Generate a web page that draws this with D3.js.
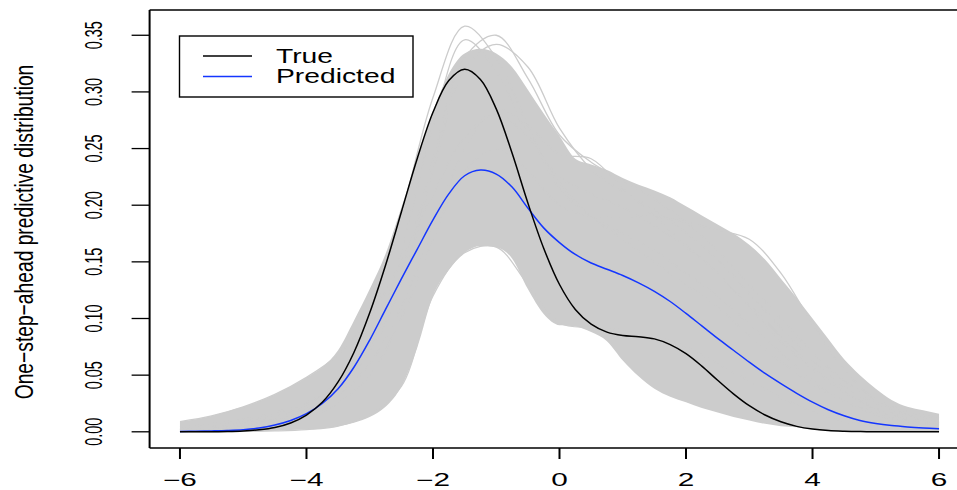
<!DOCTYPE html>
<html>
<head>
<meta charset="utf-8">
<script src="https://cdn.jsdelivr.net/npm/d3@7"></script>
<style>
  html, body { margin: 0; padding: 0; background: #fff; }
  svg { display: block; }
  text { font-family: "Liberation Sans", Arial, Helvetica, sans-serif; fill: #000; }
</style>
</head>
<body>
<svg id="chart" width="957" height="490"></svg>
<script>
// ---------------- data ----------------
const xGrid = [-6,-5.75,-5.5,-5.25,-5,-4.75,-4.5,-4.25,-4,-3.75,-3.5,-3.25,-3,-2.75,-2.5,-2.25,-2,-1.75,-1.5,-1.25,-1,-0.75,-0.5,-0.25,0,0.25,0.5,0.75,1,1.25,1.5,1.75,2,2.25,2.5,2.75,3,3.25,3.5,3.75,4,4.25,4.5,4.75,5,5.25,5.5,5.75,6];

const trueDensity = [0.0000,0.0000,0.0001,0.0003,0.0008,0.0018,0.0038,0.0078,0.0148,0.0260,0.0440,0.0700,0.1050,0.1470,0.1940,0.2410,0.2820,0.3100,0.3200,0.3110,0.2850,0.2460,0.2020,0.1620,0.1300,0.1080,0.0950,0.0880,0.0850,0.0840,0.0820,0.0770,0.0690,0.0580,0.0455,0.0335,0.0230,0.0148,0.0088,0.0048,0.0024,0.0011,0.0005,0.0002,0.0001,0.0000,0.0000,0.0000,0.0000];

const predictedDensity = [0.0003,0.0005,0.0008,0.0012,0.0019,0.0033,0.0060,0.0100,0.0160,0.0250,0.0380,0.0570,0.0810,0.1080,0.1350,0.1610,0.1870,0.2100,0.2260,0.2310,0.2275,0.2160,0.1975,0.1800,0.1670,0.1565,0.1490,0.1435,0.1380,0.1315,0.1240,0.1150,0.1045,0.0935,0.0825,0.0720,0.0615,0.0515,0.0425,0.0340,0.0262,0.0195,0.0142,0.0100,0.0073,0.0055,0.0043,0.0034,0.0027];

const sampleUpper = [0.009,0.011,0.014,0.018,0.022,0.027,0.033,0.040,0.048,0.057,0.072,0.098,0.126,0.157,0.198,0.240,0.282,0.316,0.334,0.338,0.334,0.322,0.302,0.281,0.261,0.241,0.236,0.231,0.224,0.218,0.213,0.207,0.199,0.191,0.183,0.175,0.165,0.152,0.135,0.118,0.100,0.082,0.064,0.050,0.038,0.028,0.022,0.019,0.016];

const sampleLower = [0.000,0.000,0.000,0.000,0.000,0.0005,0.001,0.0015,0.002,0.003,0.005,0.008,0.013,0.022,0.040,0.074,0.120,0.143,0.158,0.164,0.163,0.153,0.126,0.104,0.094,0.093,0.088,0.080,0.063,0.049,0.038,0.031,0.026,0.021,0.017,0.013,0.010,0.007,0.005,0.004,0.002,0.001,0.0005,0.0003,0.0002,0.0001,0.0000,0.0000,0.0000];

const xCoarse = [-6,-5.5,-5,-4.5,-4,-3.5,-3,-2.5,-2,-1.5,-1,-0.5,0,0.5,1,1.5,2,2.5,3,3.5,4,4.5,5,5.5,6];
const sampleCurve1 = [0.002,0.004,0.008,0.014,0.024,0.045,0.095,0.190,0.295,0.358,0.330,0.270,0.215,0.190,0.175,0.160,0.140,0.120,0.095,0.070,0.045,0.027,0.015,0.009,0.006];
const sampleCurve2 = [0.004,0.007,0.011,0.017,0.026,0.042,0.075,0.140,0.240,0.330,0.350,0.312,0.262,0.238,0.222,0.205,0.185,0.160,0.130,0.100,0.070,0.045,0.028,0.018,0.012];
const sampleCurve3 = [0.000,0.000,0.0003,0.0008,0.002,0.005,0.015,0.040,0.120,0.158,0.163,0.130,0.096,0.092,0.090,0.085,0.075,0.060,0.045,0.030,0.018,0.009,0.005,0.003,0.002];
const sampleCurve4 = [0.001,0.002,0.004,0.007,0.013,0.025,0.050,0.100,0.170,0.230,0.250,0.230,0.200,0.190,0.190,0.190,0.185,0.178,0.170,0.140,0.095,0.055,0.028,0.014,0.007];
const sampleCurve5 = [0.002,0.003,0.006,0.010,0.018,0.032,0.060,0.110,0.180,0.250,0.285,0.270,0.245,0.241,0.215,0.190,0.165,0.140,0.110,0.080,0.055,0.035,0.020,0.012,0.008];
const sampleCurve6 = [0.009,0.014,0.022,0.033,0.048,0.068,0.100,0.150,0.210,0.260,0.280,0.260,0.220,0.190,0.170,0.150,0.130,0.110,0.085,0.062,0.042,0.027,0.017,0.011,0.008];
const sampleCurve7 = [0.003,0.005,0.009,0.015,0.024,0.040,0.070,0.130,0.230,0.320,0.342,0.322,0.268,0.232,0.212,0.196,0.176,0.152,0.122,0.092,0.063,0.040,0.025,0.016,0.011];
const sampleCurve8 = [0.002,0.004,0.007,0.012,0.020,0.036,0.075,0.160,0.270,0.346,0.318,0.262,0.225,0.210,0.198,0.182,0.163,0.140,0.112,0.084,0.057,0.036,0.021,0.013,0.009];
const sampleCurves = [sampleCurve1, sampleCurve2, sampleCurve3, sampleCurve4, sampleCurve5, sampleCurve6, sampleCurve7, sampleCurve8];

const xTicks = [-6,-4,-2,0,2,4,6];
const xTickLabels = ["\u22126","\u22124","\u22122","0","2","4","6"];
const yTicks = [0,0.05,0.10,0.15,0.20,0.25,0.30,0.35];
const yTickLabels = ["0.00","0.05","0.10","0.15","0.20","0.25","0.30","0.35"];
const legendLabels = ["True","Predicted"];
const yTitle = "One\u2212step\u2212ahead predictive distribution";

// ---------------- drawing ----------------
const svg = d3.select("#chart");
const x = d3.scaleLinear().domain([-6.48, 6.48]).range([149.6, 969.4]);
const y = d3.scaleLinear().domain([-0.0143, 0.3723]).range([448, 10]);

const colGray = "#cccccc", colTrue = "#000000", colPred = "#1436ff";

// sample band
const band = d3.area()
  .x((d,i) => x(xGrid[i]))
  .y0((d,i) => y(sampleLower[i]))
  .y1((d,i) => y(sampleUpper[i]))
  .curve(d3.curveMonotoneX);
svg.append("path").datum(sampleUpper).attr("d", band).attr("fill", colGray);

const coarseLine = d3.line().x((d,i) => x(xCoarse[i])).y(d => y(d)).curve(d3.curveCatmullRom.alpha(0.5));
svg.append("g").selectAll("path").data(sampleCurves).join("path")
  .attr("d", coarseLine).attr("fill", "none").attr("stroke", colGray).attr("stroke-width", 1.3);

const gridLine = d3.line().x((d,i) => x(xGrid[i])).y(d => y(d)).curve(d3.curveCatmullRom.alpha(0.5));
svg.append("path").datum(predictedDensity).attr("d", gridLine)
  .attr("fill","none").attr("stroke", colPred).attr("stroke-width", 1.5);
svg.append("path").datum(trueDensity).attr("d", gridLine)
  .attr("fill","none").attr("stroke", colTrue).attr("stroke-width", 1.5);

// box
const bx0 = x(-6.48), bx1 = x(6.48), by0 = y(0.3723), by1 = y(-0.0143);
svg.append("line").attr("x1", bx0).attr("x2", bx1).attr("y1", by0).attr("y2", by0).attr("stroke","#000").attr("stroke-width",1.4);
svg.append("line").attr("x1", bx0).attr("x2", bx1).attr("y1", by1).attr("y2", by1).attr("stroke","#000").attr("stroke-width",1.4);
svg.append("line").attr("x1", bx0).attr("x2", bx0).attr("y1", by0).attr("y2", by1).attr("stroke","#000").attr("stroke-width",2);

// x axis
const gx = svg.append("g");
gx.selectAll("line").data(xTicks).join("line")
  .attr("x1", d => x(d)).attr("x2", d => x(d))
  .attr("y1", by1).attr("y2", by1 + 11)
  .attr("stroke","#000").attr("stroke-width",2);
gx.selectAll("text").data(xTicks).join("text")
  .attr("transform", d => `translate(${x(d)},486) scale(1.7,1)`)
  .attr("text-anchor","middle").attr("font-size", 17.5)
  .text((d,i) => xTickLabels[i]);

// y axis
const gy = svg.append("g");
gy.selectAll("line").data(yTicks).join("line")
  .attr("x1", bx0 - 18).attr("x2", bx0)
  .attr("y1", d => y(d)).attr("y2", d => y(d))
  .attr("stroke","#000").attr("stroke-width",1.3);
gy.selectAll("text").data(yTicks).join("text")
  .attr("transform", d => `translate(102,${y(d)}) rotate(-90) scale(0.6,1)`)
  .attr("text-anchor","middle").attr("font-size", 24)
  .text((d,i) => yTickLabels[i]);

// y title
svg.append("text")
  .attr("transform", `translate(33,${(by0 + by1) / 2 + 3}) rotate(-90) scale(0.74,1)`)
  .attr("text-anchor","middle").attr("font-size", 26)
  .text(yTitle);

// legend
const lg = svg.append("g");
lg.append("rect").attr("x",179.5).attr("y",36).attr("width",233.5).attr("height",61)
  .attr("fill","#fff").attr("stroke","#000").attr("stroke-width",1.4);
const legendCols = [colTrue, colPred];
lg.selectAll("line").data(legendLabels).join("line")
  .attr("x1",203).attr("x2",252)
  .attr("y1",(d,i) => 56 + i*20.5).attr("y2",(d,i) => 56 + i*20.5)
  .attr("stroke",(d,i) => legendCols[i]).attr("stroke-width",1.5);
lg.selectAll("text").data(legendLabels).join("text")
  .attr("transform",(d,i) => `translate(276,${63 + i*20}) scale(1.45,1)`)
  .attr("font-size", 19.5)
  .text(d => d);
</script>
</body>
</html>
